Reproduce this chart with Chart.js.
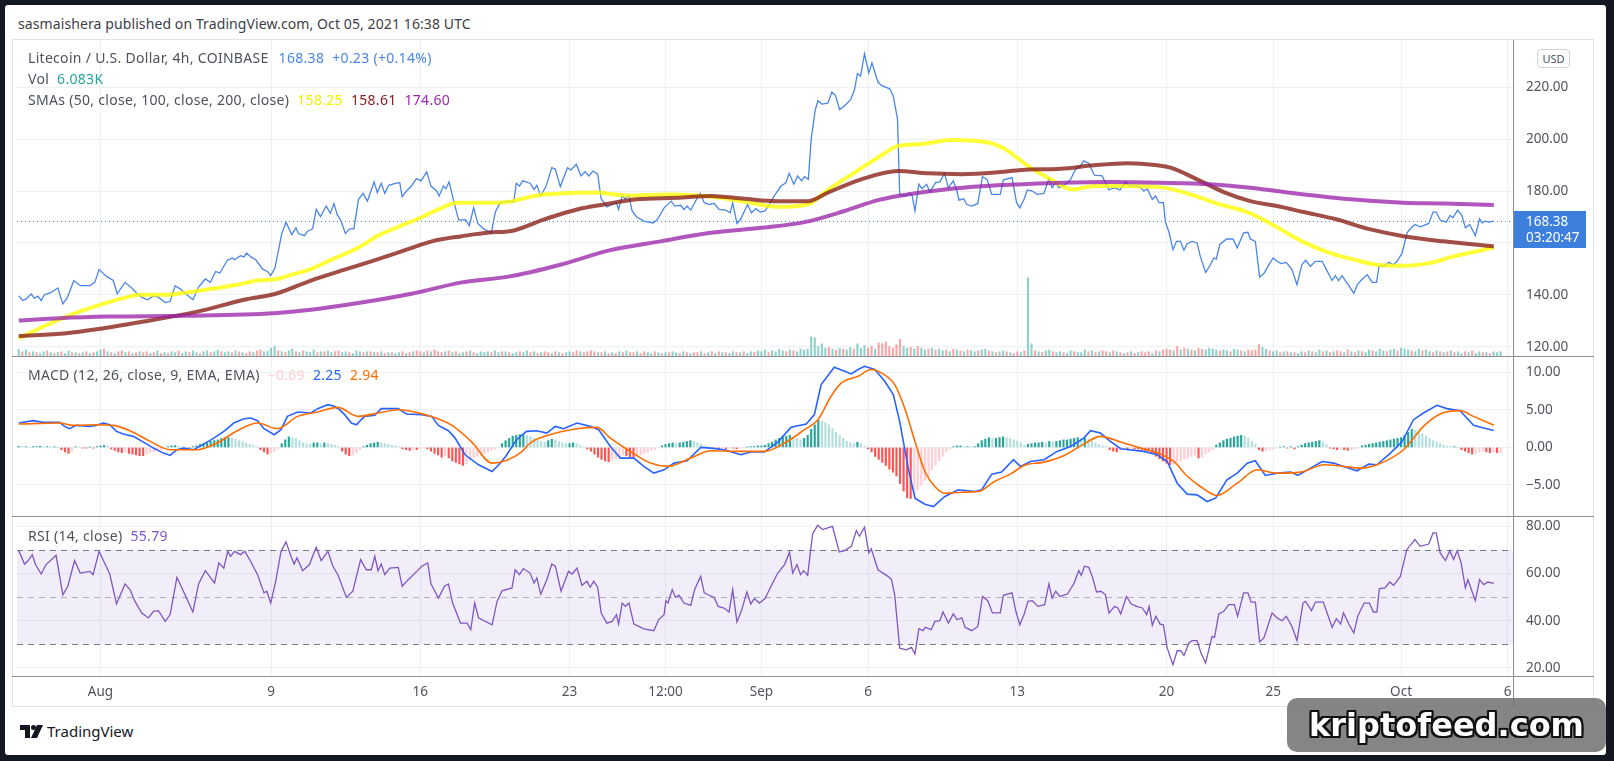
<!DOCTYPE html>
<html>
<head>
<meta charset="utf-8">
<script src="https://cdn.jsdelivr.net/npm/chart.js@4.4.1/dist/chart.umd.min.js"></script>
<style>
  body { margin: 0; width: 1614px; height: 761px; overflow: hidden; background: #131722; font-family: "Noto Sans", sans-serif; }
  .abs { position: absolute; }
  #card { left: 5px; top: 5px; width: 1601px; height: 750px; background: #fff; border-radius: 3px; }
  #frame { left: 12px; top: 39px; width: 1582px; height: 668px; border: 1px solid #e0e3eb; box-sizing: border-box; }
  .hline { height: 1px; background: #8c8f98; left: 12px; width: 1582px; }
  .txt { font-size: 14px; letter-spacing: 0.3px; color: #4c525e; white-space: nowrap; line-height: 16px; }
  .txt span { margin-left: 8px; }
  #usd { left: 1537px; top: 49px; width: 33px; height: 19px; border: 1px solid #d1d4dc; border-radius: 4px; box-sizing: border-box;
         font-size: 11px; line-height: 17px; text-align: center; color: #4c525e; background: #fff; }
  #wm { left: 1287px; top: 698px; width: 319px; height: 54px; border-radius: 10px; background: rgba(112,112,112,0.85);
        font-family: "DejaVu Sans", sans-serif; font-weight: bold; font-size: 32px; color: #fff; text-align: center; line-height: 54px;
        text-shadow: -2px -2px 0 #111, 2px -2px 0 #111, -2px 2px 0 #111, 2px 2px 0 #111, 0 2px 0 #111, 0 -2px 0 #111, 2px 0 0 #111, -2px 0 0 #111; }
</style>
</head>
<body>
<div id="card" class="abs"></div>
<div class="abs txt" style="left:18px;top:16px;color:#3d4049;letter-spacing:0.1px">sasmaishera published on TradingView.com, Oct 05, 2021 16:38 UTC</div>
<div id="frame" class="abs"></div>

<canvas id="price" class="abs" style="left:12px;top:40px" width="1582" height="317"></canvas>
<canvas id="macd" class="abs" style="left:12px;top:357px" width="1582" height="160"></canvas>
<canvas id="rsi" class="abs" style="left:12px;top:517px" width="1582" height="190"></canvas>

<div class="abs hline" style="top:356px"></div>
<div class="abs hline" style="top:516px"></div>
<div class="abs hline" style="top:676px"></div>
<div class="abs" style="left:1513px;top:40px;width:1px;height:667px;background:#8c8f98"></div>

<div class="abs txt" style="left:28px;top:50px">Litecoin / U.S. Dollar, 4h, COINBASE<span style="color:#4a86e8;margin-left:10px">168.38</span><span style="color:#4a86e8">+0.23 (+0.14%)</span></div>
<div class="abs txt" style="left:28px;top:71px">Vol<span style="color:#26a69a">6.083K</span></div>
<div class="abs txt" style="left:28px;top:92px">SMAs (50, close, 100, close, 200, close)<span style="color:#f2f200">158.25</span><span style="color:#8b1a1a">158.61</span><span style="color:#9c27b0">174.60</span></div>
<div id="usd" class="abs">USD</div>
<div class="abs txt" style="left:28px;top:367px">MACD (12, 26, close, 9, EMA, EMA)<span style="color:#ffcdd2">−0.69</span><span style="color:#2962ff">2.25</span><span style="color:#ff6d00">2.94</span></div>
<div class="abs txt" style="left:28px;top:528px">RSI (14, close)<span style="color:#7e57c2">55.79</span></div>

<svg class="abs" style="left:20px;top:725px" width="24" height="13" viewBox="0 0 24 13">
  <path d="M0 0h10v13H5V5H0z M17 0h6l-6 13h-6z" fill="#131722"/>
  <circle cx="13.5" cy="2.5" r="2.5" fill="#131722"/>
</svg>
<div class="abs" style="left:47px;top:721px;font-size:15px;color:#131722">TradingView</div>
<div id="wm" class="abs">kriptofeed.com</div>

<script>
// x values are 4h bars counted from Aug 1 00:00 UTC
const tickBars = [0, 48, 90, 132, 159, 186, 216, 258, 300, 330, 366, 396];
const tickLabels = ["Aug", "9", "16", "23", "12:00", "Sep", "6", "13", "20", "25", "Oct", "6"];
const priceTicks = [120, 140, 160, 180, 200, 220];
const macdTicks = [-5, 0, 5, 10];
const rsiTicks = [20, 40, 60, 80];

// LTC close at its turning points
const priceLine = [[-23,139.6],[-21.9,137.8],[-21,138.3],[-19.5,140.3],[-18.6,138.7],[-17.6,139.4],[-16.7,137.8],[-15.8,140],[-13.9,140.9],[-12,142.6],[-10.6,136.5],[-9.4,138.7],[-7.5,145.5],[-5.7,143.5],[-3,143.5],[-1.6,144.8],[-0.4,149.7],[1.7,147.1],[3.6,145.5],[4.7,140.4],[6.9,144.8],[8.8,142.6],[10.2,140.6],[11.6,139.1],[13.2,138.1],[14.9,139.6],[16.3,139.1],[18.2,137],[19.6,137.4],[21,143.5],[22.5,142.2],[24.3,140],[26,138.1],[27.6,143],[29.5,146.1],[30.9,144.8],[32.4,149],[33.6,148.4],[35.7,153.3],[37.1,154.2],[37.7,153.5],[39.4,155.1],[40.4,154.6],[41.1,156.1],[42.3,154.6],[43.7,153.5],[45.6,149.9],[47,149],[47.9,147.4],[49.1,150.3],[51,163.6],[52.2,168],[53.8,163.2],[55,165.8],[55.7,163.6],[57.4,162.8],[58.3,164.5],[59.7,165.4],[60.7,172.9],[61.9,170.1],[63.5,174.2],[64.7,171.4],[65.7,175.2],[66.6,171],[67.7,168.4],[68.9,163.6],[70.1,165.4],[71.3,165.4],[72.6,176.8],[73.9,179.1],[75.1,176.1],[77,183.5],[77.9,179.4],[79,183],[80,179.1],[81.1,182.2],[83.3,183],[84.2,183.2],[84.9,177.8],[86.1,180],[87.5,181.9],[88.9,184.8],[90.2,183.9],[91.8,187.4],[93,181.9],[94.6,180],[95.3,178.1],[96.5,181.9],[97.2,180.9],[98.1,183.5],[99.4,176.1],[100.8,168.8],[102.7,169],[103.8,166.7],[105,173.5],[106.2,167.5],[107.8,165.4],[110,163.9],[111.1,171.9],[112.5,175.5],[114.9,176.1],[116.3,175.7],[117,183],[117.9,181.9],
  [118.8,183.9],[120.9,183],[122,180.6],[122.8,182.2],[123.9,178.1],[125.4,181.9],[127,189],[128,188.4],[129.4,181.7],[131.4,189],[132.4,188.1],[133.9,190.3],[135.2,185.8],[136.4,187.4],[137.4,185.8],[138.6,187.7],[139.9,186.5],[140.9,177],[142.5,173.9],[144,174.8],[145.2,175.5],[145.8,172.9],[146.8,178.1],[147.7,177],[148.7,178.3],[149.6,172.3],[150.8,170.1],[152.9,168.4],[155.5,167.7],[156.7,169],[158.6,173.5],[160.6,176.1],[161.6,174.2],[163.3,174.5],[164.2,172.9],[165.1,174.2],[166.1,172.6],[167.8,177],[168.8,179.1],[169.9,175.5],[171.3,174.8],[172.7,175.2],[174.1,172.9],[176,172.6],[177.2,171.6],[177.9,175.5],[179.1,167.5],[180.2,169.3],[182.1,174.8],[183.2,171.6],[184.4,173.2],[185.7,171.9],[187,172.3],[188.2,174.8],[189.6,178.1],[191.5,181.9],[192.9,183.2],[193.8,186.8],[195.1,182.6],[196.2,185.8],[197.3,183.9],[198.1,185.5],[199.2,184.5],[200,200],[201.1,211],[201.9,214.8],[203,213.5],[204.7,213.9],[205.8,218.1],[206.8,217],[208,211.4],[209.4,212.9],[211.1,215.2],[212.2,219.1],[213,225.2],[213.9,224.3],[215,232.9],[216.2,225.5],[217.1,229.4],[218.8,221.9],[219.9,220.6],[222.1,219.4],[223.1,216.5],[224.3,207.7],[224.9,178.7],[226.3,178.1],[227.7,179.1],[228.4,178.3],[229.2,172.3],[230.3,182.6],[231.2,180.9],[232.5,182.6],[233.4,179.6],[235,183.2],[236.2,183.5],[237.5,186.8],[238.6,181.3],[240,183.9],[241,180],[241.6,176.5],[242.9,177],[243.8,174.8],[245.2,174.2],[246.9,175.2],[248.2,185.5],[249.5,184.5],[250.8,178.7],[253.2,178.7],[254.1,184.3],[256.5,185.2],
  [257.8,175.5],[258.7,173.5],[259.9,176.8],[260.8,180.4],[262.2,180],[263.6,178.7],[265.5,179.1],[266.9,184.8],[267.8,181.3],[268.8,183.2],[269.7,181.3],[271.6,182.6],[273,184.5],[274.4,188.4],[275.8,189.7],[276.7,191.6],[278.1,190.7],[279.7,186.1],[281.9,185.8],[282.8,183.2],[283.8,180.4],[285.2,181.3],[286.9,180.4],[288.5,183.5],[289.7,181.9],[291.3,181.9],[292.7,181.3],[293.6,180],[294.6,180.9],[295.3,178.7],[296,176.8],[296.9,178.1],[297.9,175.5],[299.1,175.5],[299.7,168],[300.7,164.1],[301.8,157.4],[302.8,160.6],[303.9,160.6],[304.9,157.2],[305.8,159.7],[307.2,160.6],[308.6,160],[309.5,154.8],[311,148.6],[312.2,151.2],[313.3,154.2],[314,153.8],[315,159.4],[316.9,161.5],[318.7,161.5],[319.9,158.1],[321.7,163.9],[322.9,164.1],[323.6,161.5],[325,160.6],[326.2,146.8],[327.5,148.4],[328.8,151.6],[330,154.2],[331.1,152.9],[332.2,152],[333.7,152.5],[335.3,149.7],[336.7,143.9],[338.1,151.6],[339.1,153.3],[340.5,151],[341.9,152.9],[343.8,152.9],[345,149.7],[346.6,145.5],[347.5,147.4],[348.4,145.5],[349.4,147.4],[350.3,145.5],[351.3,143.5],[352.7,140.6],[353.7,143.9],[355.1,146.1],[356.5,147.7],[357.9,144.8],[359.1,144.8],[359.8,151],[361.2,151],[362.6,152.5],[363.8,151.6],[364.9,152.9],[366.3,156.1],[367.7,163.9],[369.1,166.2],[370,167.1],[371.4,166.2],[373.8,167.5],[375,171.9],[375.9,171.9],[377,168.8],[378.7,168],[379.8,170.6],[380.6,169.7],[381.9,172.6],[383.1,170.6],[384.1,165.8],[385.3,167.1],[386.9,162.8],[388.1,169.3],[388.8,167.7],[389.7,168.4],[390.7,168],[392.1,168.38]];

const sma50 = [[-23,123.2],[-16.2,127.7],[-9.6,131.6],[-0.2,136.1],[6.4,138.7],[11.1,140],[18.7,140],[24.3,140.9],[30.9,142.2],[38.5,143.9],[44.2,145.5],[49.8,146.1],[53.6,147.7],[59.2,149.9],[64.9,153.5],[72.5,158.1],[78.1,162.8],[83.8,166.2],[89.4,169.3],[95.1,172.9],[100.3,175.5],[108.3,175.5],[114,175.7],[122.8,178.3],[130.3,179.1],[138.8,179.4],[148.2,178.3],[160.4,178.7],[168,178.3],[176.4,177],[184,175.2],[190.6,173.9],[199,174.8],[204.7,180.4],[212.2,187.1],[218.8,192.9],[224.5,197.4],[231.1,198.1],[239.5,199.7],[249.9,198.7],[254.6,196.1],[261.7,189],[267.4,184.5],[273.5,180.6],[279.6,181.9],[289,181.9],[299.2,181.3],[305.8,179.1],[314.2,175.2],[323.6,171.4],[330.2,166.7],[338.6,160.3],[346.1,156.1],[353.6,153.3],[359.2,151.6],[366.7,151.2],[374.3,152.3],[380.8,154.8],[387.4,156.8],[392.1,158.25]];
const sma100 = [[-23,124.1],[-9.6,125.2],[-1.1,126.7],[12.1,129.7],[27.2,133.5],[40.4,138.1],[49.8,140.6],[59.2,145.5],[68.7,149.7],[76.2,152.9],[85.7,157.2],[93.2,160.6],[101.7,162.6],[110.2,164.1],[115.2,164.5],[124.7,169],[134.1,172.9],[141.6,174.8],[151,176.8],[162.3,177.4],[171.7,178.1],[181.2,177],[190.6,176.1],[199,176.1],[204.7,179.4],[214.1,184.5],[224.5,187.7],[232.9,186.8],[242.4,186.5],[251.8,187.1],[259.3,188.1],[270.2,188.6],[279.6,189.9],[289,190.7],[297.4,189.9],[301.1,189],[308.6,184.5],[316.1,179.6],[323.6,176.1],[331.1,174.2],[338.6,171.9],[348,169],[357.4,165.2],[366.7,162.6],[378,160.6],[392.1,158.61]];
const sma200 = [[-23,130.1],[-11.5,131],[2.6,131.6],[24.3,131.9],[48.9,132.9],[59.2,134.2],[73.4,137],[87.5,140.4],[101.7,144.8],[115.2,147.1],[129.4,151.6],[143.5,157.2],[157.6,160.6],[171.7,163.9],[185.9,165.8],[198.1,168],[209.4,172.3],[218.8,176.5],[224.5,178.1],[237.6,180.6],[248.9,181.9],[259.3,182.6],[270.2,183.2],[284.3,183.5],[298.3,183.2],[312.4,182.6],[323.6,181.3],[335.8,179.1],[349.9,177],[366.7,175.5],[378,175.2],[392.1,174.6]];

// volume in K per 4h bar from Jul 28 00:00 (bar -24); negative = down candle
const barStart = -24;
const volume = [
  7,9,-6,8,-5,6, -5,4,6,-7,5,-4, 5,-6,4,7,-5,5, -4,5,-6,4,-5,6,
  8,-9,6,-5,4,-6, -7,5,-6,4,-5,6, -5,-6,4,-5,7,-4, 5,-4,6,5,-7,4, 6,-5,7,5,-4,6, 7,-5,6,8,-6,5, 6,-5,7,-6,5,-4, -6,5,-7,-8,6,7,
  10,12,-7,6,-5,7, 9,-6,5,-7,6,5, 8,-5,6,-6,7,5, -6,-7,5,6,-5,4, 7,6,-5,6,-6,5, -5,6,-4,5,-5,4, 5,-6,4,-5,6,-7,
  -6,5,-7,6,-8,-6, -5,6,-7,5,-6,4, 5,-6,7,-5,4,6, 5,6,-5,7,5,-6, 6,-5,4,5,-6,5, 7,-5,6,-4,5,-6, -5,4,-6,5,-4,5,
  6,-5,-7,6,-5,-6, -7,-6,5,-5,6,-4, 5,-4,6,-5,7,-5, -5,6,-4,-6,5,4, -6,5,-4,5,-5,6, 5,-4,6,-5,4,-5, -5,6,-4,5,-6,4, -6,5,-5,4,6,-5, 5,-6,4,6,-5,7,
  6,8,-5,7,6,9, 7,-6,8,-7,6,9, 8,9,23,22,12,15, 10,-11,9,-8,10,-9, 8,11,-9,15,10,13, -10,-12,9,-16,-15,-17, -12,-10,-14,-20,12,10,
  -11,9,-12,10,8,-9, 10,-8,9,7,-8,6, -9,8,-7,6,-8,7, 6,-7,8,9,-7,6, -5,6,7,-6,5,-4, -6,5,-7,90,15,-7, 6,-5,7,8,-6,5,
  6,-5,4,7,-6,5, 5,8,-6,7,-5,6, -7,-6,5,-7,6,-5, 4,-5,6,-4,5,-6, -5,-6,4,-7,6,-8, -9,-8,7,-12,8,-10, 9,-8,7,-10,-9,8,
  10,9,8,-7,8,7, -6,9,8,-7,6,-8, -7,-8,-14,11,9,-7, 6,7,-5,6,-6,5, -5,4,6,-5,7,-6, 5,8,-6,7,-5,6, -7,-6,5,-8,6,-5,
  7,-6,5,8,-7,6, 9,7,-6,8,9,-7,
  10,9,8,-7,6,9, -7,8,6,-5,7,-6, 5,-6,7,-5,6,4, -6,5,-7,4,6,-5, 5,-4,6,5,6.083
];

const macdLine = [[-23,3.24],[-19,3.56],[-16.2,3.33],[-11.5,3.33],[-10.1,2.8],[-8.7,2.49],[-6.8,2.93],[-3,2.8],[-1.6,2.89],[0.8,3.24],[2.6,3.02],[4.5,2.13],[6.4,1.78],[9.2,1.47],[12.1,0.71],[14.9,-0.09],[17.7,-0.76],[19.6,-1.07],[21.5,-0.31],[23.4,-0.09],[26.2,-0.31],[29,0.44],[31.9,1.24],[34.7,2.13],[37.5,3.24],[40.4,3.82],[42.3,3.91],[44.2,3.56],[46,2.49],[48.9,1.69],[50.8,2.36],[52.6,4.13],[55.5,4.71],[59.2,4.58],[61.1,5.16],[64,5.69],[65.8,5.47],[67.3,5.02],[68.7,4.36],[70.6,3.24],[72,3.02],[74.3,4.13],[77.2,4.27],[79,5.16],[83.8,5.16],[86.1,4.44],[90.4,4.36],[93.2,4.13],[95.1,2.93],[97.9,2.22],[99.8,1.24],[102.6,-0.98],[106.4,-2.31],[110.2,-3.2],[112.1,-2.31],[114,-1.2],[117.1,1.02],[119.9,2.13],[122.8,2.22],[125.6,1.91],[128,2.8],[130.3,2.49],[134.1,3.24],[137.8,2.8],[140.2,2.36],[143.5,0.13],[146.3,-1.42],[150.1,-1.42],[152.9,-2.53],[155.7,-3.42],[158.6,-2.98],[161.4,-2.09],[165.1,-1.78],[168.9,0],[171.7,-0.09],[175.5,-0.31],[180.2,-0.98],[183,-0.62],[186.8,-0.62],[190.6,0.71],[194.3,2.67],[198.6,3.11],[200.9,4.36],[202.8,8.36],[206.5,10.67],[209.4,10.13],[211.3,9.78],[213.2,10.36],[215,10.8],[217.9,10.36],[220.7,8.8],[223.1,7.02],[224.9,3.47],[227.3,-2.76],[229.2,-6.76],[232,-7.56],[234.4,-7.87],[237.6,-6.53],[241.4,-5.64],[246.1,-5.87],[248,-5.64],[250.8,-3.56],[253.6,-3.29],[256.9,-1.64],[258.9,-2.53],[261.7,-1.87],[265.5,-1.64],[269.2,-0.53],[273,0.13],[276.7,1.24],[278.6,2.22],[281.4,1.91],[284.2,0.8],[287.1,-0.18],[293.6,-0.53],[297.4,-0.98],[300.2,-1.87],[303,-4.76],[305.8,-6.22],[308.6,-6.31],[311.4,-7.2],[313.8,-6.76],[317,-4.31],[319.9,-3.42],[322.7,-2.09],[325,-1.78],[327.8,-3.73],[331.1,-3.42],[334.9,-3.29],[337,-3.73],[340.5,-2.76],[343.8,-1.87],[347,-2.09],[349.8,-2.53],[353.6,-3.11],[356.9,-2.22],[359.2,-2.31],[363,-0.76],[366.2,0.71],[369.5,3.69],[372.3,4.58],[376.1,5.6],[378.9,5.16],[382.6,4.89],[386.4,2.93],[389.2,2.58],[392.1,2.25]];
const signalLine = [[-23,3.11],[-11.5,3.24],[-7.7,2.93],[-1.1,3.02],[3.6,2.93],[8.3,2.22],[14,0.8],[19.6,-0.31],[27.2,-0.31],[32.8,0.58],[38.5,2.22],[44.2,3.24],[49.8,2.49],[55.5,4.13],[61.1,4.71],[66.8,5.33],[72.5,4.13],[78.1,4.58],[83.8,5.02],[91.3,4.36],[98.9,2.93],[104.5,0.71],[110.2,-2.09],[114,-1.78],[118.7,-0.53],[120.9,0.58],[126.5,1.69],[134.1,2.49],[139.7,2.67],[143.5,1.24],[149.1,-0.53],[154.8,-2.09],[159.5,-2.53],[166.1,-1.42],[171.7,-0.44],[179.3,-0.53],[186.8,-0.53],[192.5,0.58],[198.1,2.36],[201.9,3.69],[205.6,6.8],[208.5,8.58],[213.2,9.47],[216.9,10.36],[219.7,9.91],[223.5,8.36],[226.3,5.24],[229.2,0.8],[232,-3.2],[234.8,-5.2],[237.6,-6.09],[242.4,-5.96],[247,-5.87],[251.6,-4.53],[256.5,-3.42],[259.9,-2.4],[265.5,-1.96],[271.2,-1.07],[276.7,0.44],[281.4,1.47],[287.1,0.71],[292.7,-0.09],[298.3,-0.89],[302.1,-1.9],[305.8,-3.8],[309.5,-5.2],[314.2,-6.4],[319.9,-4.76],[325.5,-2.98],[331.1,-3.42],[337.7,-3.29],[344.3,-2.31],[349.8,-2.53],[354.5,-2.76],[359.2,-2.31],[366.7,-0.31],[372.3,2.8],[377,4.44],[382.6,4.89],[386.4,4.13],[392.1,2.94]];

// MACD histogram per 4h bar from bar -24
const macdHist = [
  0.1,0.15,0.1,0.1,0.05,0.1,0.1,0.15,0.1,0.1,0.05,0.1,0.05, -0.3,-0.6,-0.8,-0.5, 0.1,0.05,-0.1,-0.1,0.05,-0.1,0.1,
  0.2,0.25,0.15, -0.2,-0.4,-0.6,-0.7,-0.6,-0.8,-0.9,-1.0,-1.1,-1.1,-0.9,-0.7,-0.6,-0.4,-0.3,-0.15,
  0.1,0.2,0.25,0.15,0.1,0.05,-0.05,0.1,
  0.2,0.4,0.5,0.6,0.8,0.9,1.0,1.2,1.3,1.3,1.2,1.1,0.9,0.8,0.6,0.4,0.3,0.1,
  -0.3,-0.6,-0.9,-0.8,-0.5,-0.2, 0.5,1.0,1.4,1.3,1.2,0.9, 0.6,0.5,0.4,0.6,0.6,0.5,0.6,0.5,0.4,0.3,0.1,
  -0.5,-0.9,-1.1,-1.0,-0.7,-0.3, 0.1,0.3,0.5,0.6,0.7,0.6,0.5,0.4,0.3,0.2,0.1, -0.2,-0.3,-0.4,-0.3,-0.3,-0.2,-0.1,-0.2,
  -0.5,-0.8,-1.0,-1.3,-1.1,-1.4,-1.8,-2.0,-2.2,-2.4,-2.2,-1.8,-1.4,-1.2,-1.0,-0.8,-0.6,-0.4,-0.2,-0.1,
  0.5,0.9,1.2,1.5,1.6,1.7,1.7,1.6,1.4, 1.2,1.0,0.8,0.7,0.9,1.1,1.0,0.8,0.6,0.5,0.5,0.6,0.5,0.3,0.1,
  -0.2,-0.5,-0.9,-1.3,-1.6,-1.8,-1.9,-1.7,-1.5,-1.2,-1.0,-1.1,-1.3,-1.4,-1.2,-1.0,-0.8,-0.6,-0.4,-0.3,-0.1,
  0.2,0.4,0.5,0.6,0.5,0.6,0.7,0.8,0.9,0.8,0.6,0.4,0.2,0.1, -0.1,-0.1,-0.2,-0.1,-0.2,-0.1,-0.1,-0.2,-0.1,-0.05,
  0.05,0.1,0.1,0.2,0.2,0.3,0.5, 0.7,1.0,1.2,1.4,1.5,1.6,1.4,1.2,1.0,1.2,1.6, 2.4,3.0,3.6,3.5,3.3,3.0,
  2.5,2.0,1.6,1.2,0.8,0.6,0.5,0.7,0.5, 0.2,-0.2,-0.6,
  -1.2,-1.6,-2.0,-2.4,-2.9,-3.3,-3.8,-4.8,-5.8,-6.7,-6.8, -6.2,-5.6,-5.0,-4.4,-3.8,-3.0,-2.4,-1.8,-1.2,-0.6,-0.2,
  0.1,0.2,0.2,0.1,0.1,0.05,0.1, 0.5,0.9,1.1,1.3,1.2,1.2,1.3,1.4,1.3,1.2,1.0,0.8,0.6,
  0.3,0.4,0.5,0.6,0.6,0.7,0.6,0.8,0.7,0.8,0.9,1.0,1.0,1.1,1.2,1.3,1.2,1.3,1.1,0.9, 0.6,0.4,0.2,0.1,
  -0.3,-0.5,-0.6,-0.4,-0.2,-0.2,-0.1,-0.2,-0.2,-0.3,-0.4,-0.5, -0.8,-1.2,-1.5,-1.8,-2.1,-2.3,-2.2,-2.0,
  -1.8,-1.6,-1.4,-1.2,-1.0,-1.4,-1.3,-0.9,-0.6,-0.3, 0.3,0.6,0.9,1.1,1.2,1.4,1.5,1.6,1.5,1.2,0.8,0.4,
  -0.3,-0.5,-0.4,-0.3,-0.2,-0.1,0.05, 0.1,-0.1,0.1,-0.2,0.1, 0.3,0.5,0.6,0.7,0.8,0.9,0.7,0.4,
  -0.1,-0.2,-0.3,-0.2,-0.3,-0.4,-0.3,-0.2,-0.1, 0.2,0.3,0.4,0.5,0.6,0.7,0.8,0.9,1.0,1.1,1.2,1.3,
  1.6,2.0,2.4,2.3,2.1,1.8,1.5,1.2,0.9,0.7,0.5, 0.3,0.2,0.1,0.1,0.05,
  -0.3,-0.5,-0.7,-0.9,-0.8,-0.6,-0.5,-0.6,-0.7,-0.6,-0.7,-0.69
];

const rsiLine = [[-23,69.7],[-21.4,64],[-20.5,65.2],[-19.2,68],[-18.3,63.8],[-16.7,59.8],[-15.3,63.8],[-12.5,67.7],[-10.6,51],[-9.2,54.6],[-7.3,65.5],[-5.7,60.2],[-3,60.9],[-2.1,59.5],[-0.4,69.4],[2.6,59.8],[4.5,47.1],[6.9,55.6],[8.3,53.2],[9.7,48.2],[11.6,43.3],[13.5,41.2],[14.9,44],[16.3,44.3],[18.2,39.7],[19.6,42.6],[21.5,58.4],[22.9,53.9],[26,43.7],[27.6,55.6],[29.5,61.2],[30.9,58.4],[32.1,56],[33.3,64.5],[34.7,62.3],[35.8,69.4],[36.6,67.3],[37.7,69.4],[39.4,68],[40.6,69.4],[42.1,65.5],[44.2,59.5],[46,51.8],[46.8,52.5],[47.9,47.5],[49.3,56.7],[50.8,69.4],[52.2,73.4],[53.6,67.3],[54.5,64],[55.3,66.6],[56.9,61.2],[58.8,63.8],[60.7,71.1],[62.1,65.5],[64,69.4],[65.4,63.1],[66.8,59.5],[69.2,49.9],[71,52.5],[73.2,65.9],[74.8,61.6],[76.2,61.6],[77.2,67.3],[78.1,61.2],[79,64],[80,59.5],[81.4,62.3],[83.8,62.6],[84.9,54.6],[86.6,57.4],[89,60.9],[90.4,63.1],[92.1,64.5],[93,55.6],[95.1,49.6],[96.8,54.6],[97.9,55.6],[99.1,47.5],[101.3,39],[103.2,39],[104.2,36.2],[105.3,47.5],[106.4,41.2],[108.3,39.7],[110.2,38.3],[111.6,48.2],[113,52.7],[115.8,53.9],[116.7,61.6],[117.9,59.5],[119,62.1],[120.9,60.2],[122,56],[122.8,58.1],[123.9,51.3],[125.6,57.4],[127,64],[128,63.1],[129.6,52.5],[131.7,60.9],[132.7,59.8],[134.1,62.3],[135.5,55],[136.9,56.7],[137.8,54.2],[138.8,56.7],[139.9,54.2],[140.9,43.3],[142.5,39],[144,39.7],[145.2,42.6],[145.8,38.6],[146.8,47.5],[147.7,46.1],[148.7,47.5],[150.1,38.6],[151.5,37.6],[152.9,36.6],[155.7,35.8],[157.1,40.5],[158.6,42.6],[159.1,48.5],[159.7,47.5],[160.9,53.2],[161.8,49.9],[162.8,50.8],[164.2,47.5],[166.1,46.5],[167.2,53.2],[168.9,58.8],[169.9,51.8],[171.3,50.8],[172.7,49.9],[173.8,46.1],[175.5,45.4],[176.9,43.7],[177.9,53.2],[179.1,39.5],[180.4,44.3],[181.9,52.2],[183,47.1],[184,49.4],[185.4,47.5],[187,49.4],[188.7,54.6],[190.6,60.2],[192.5,63.8],[193.9,69.1],[194.8,60.2],[196,63.8],[197,59.5],[197.9,61.2],[199,59.2],[200.4,76.8],[201.8,80.4],[203.2,78.6],[206,80],[207.9,69.1],[209.4,69.7],[211.3,71.5],[212.7,78.2],[213.6,75.8],[215,79.6],[216.2,68.7],[216.9,70.5],[218.8,61.6],[221.6,58.8],[222.6,57.4],[223.5,51],[224.9,28.4],[226.8,27.7],[228.2,28.7],[229.2,25.9],[230.3,36.6],[231.5,35.8],[232.1,37.2],[233.8,36.2],[234.8,39.7],[236.2,40],[237.1,43.7],[238.6,39],[240,42.9],[241,40.5],[242.4,41.2],[243.3,37.2],[245.2,35.8],[246.9,37.6],[248.2,50.3],[249.7,48.5],[251,43.3],[253.2,43.3],[254.1,50.8],[256.5,51.8],[257.6,44],[258.7,38.3],[259.9,42.6],[261,48.2],[262.2,48.5],[263.8,46.1],[265.7,46.8],[266.9,55.6],[267.8,49.6],[268.8,52.5],[270,50.3],[272.1,51.3],[273.9,55.6],[275.3,61.2],[276,59.2],[276.9,63.1],[278.1,62.6],[279.1,58.8],[280.3,52.2],[281.6,52.5],[282.8,51],[283.8,43.3],[285.4,46.1],[286.3,45.4],[287.1,42.9],[288.7,50.3],[290.1,47.1],[291.6,46.1],[293.2,45.4],[294.4,42.6],[295.1,46.1],[296,38.1],[297,41.9],[298.2,38.6],[299.1,38.3],[300.2,28.4],[301.8,21.4],[303,27.3],[304,27.3],[304.9,25.3],[306.3,30.6],[307.2,31.6],[308.6,31.6],[309.7,26.3],[311,22.1],[312.8,33.4],[313.5,33],[314.7,42.9],[316.1,44],[317.5,46.8],[319.1,46.8],[320,41.9],[321.7,51.8],[322.9,51.8],[323.8,47.9],[325,47.9],[326.2,31],[327.4,32.7],[329.7,43.3],[331.1,41.2],[332.5,40],[333.7,41.9],[335.3,37.6],[336.7,31.6],[338.4,47.5],[339.1,48.2],[340.8,44.3],[341.9,47.9],[344.1,47.9],[345.2,43.3],[346.6,37.2],[347.8,40.9],[349,38.6],[349.8,43.3],[351.3,38.6],[352.7,34.8],[353.8,41.9],[355.6,47.5],[357.1,47.5],[358.2,43.7],[359.2,43.7],[359.9,53.6],[361.5,53.9],[362.8,56.4],[363.9,55],[365.8,58.8],[367.6,70.1],[369.9,74.4],[371.4,71.5],[373.8,72.5],[375,77.2],[375.9,77.2],[377,68.7],[378.5,65.5],[379.7,69.7],[380.8,65.9],[381.8,69.7],[382.9,64.5],[384.1,53.9],[384.8,57.4],[386.9,48.5],[388.1,57.4],[389.3,55.3],[390.4,56.4],[392.1,55.79]];

const lastPrice = priceLine[priceLine.length - 1][1];
const countdown = "03:20:47";

// look
const xMin = -23.5, xMax = 397.5;
const gridColor = "#edf0f5";
const axisColor = "#50535e";
const priceColor = "#4a86e8";
Chart.defaults.font.family = "'Noto Sans', sans-serif";
Chart.defaults.font.size = 13.5;

const pts = arr => arr.map(([x, y]) => ({ x, y }));
const zeroPad = s => { s.paddingTop = 0; s.paddingBottom = 0; s.paddingLeft = 0; s.paddingRight = 0; };

function paneOptions(yMin, yMax, yTicks, fmt, showTime) {
  return {
    responsive: false,
    animation: false,
    events: [],
    layout: { padding: { left: 5, right: 0, top: 0, bottom: 0 } },
    plugins: { legend: { display: false }, tooltip: { enabled: false } },
    scales: {
      x: {
        type: "linear", min: xMin, max: xMax, offset: false,
        afterBuildTicks: s => { s.ticks = tickBars.map(v => ({ value: v })); },
        ticks: { display: showTime, autoSkip: false, maxRotation: 0, padding: 8, color: axisColor,
                 callback: v => tickLabels[tickBars.indexOf(v)] },
        grid: { color: gridColor, drawTicks: false, offset: false },
        border: { display: false },
        afterFit: s => { s.height = showTime ? 31 : 0; zeroPad(s); }
      },
      y: {
        position: "right", min: yMin, max: yMax,
        afterBuildTicks: s => { s.ticks = yTicks.map(v => ({ value: v })); },
        ticks: { padding: 13, color: axisColor, callback: fmt },
        grid: { color: gridColor, drawTicks: false },
        border: { display: false },
        afterFit: s => { s.width = 81; zeroPad(s); }
      }
    }
  };
}

const fmt2 = v => (v < 0 ? "\u2212" : "") + Math.abs(v).toFixed(2);

// dotted last-price line + blue price label on the axis
const lastPricePlugin = {
  id: "lastPrice",
  beforeDatasetsDraw(chart) {
    const { ctx, chartArea: a, scales: { y } } = chart;
    const py = Math.round(y.getPixelForValue(lastPrice)) + 0.5;
    ctx.save();
    ctx.strokeStyle = priceColor;
    ctx.lineWidth = 1;
    ctx.setLineDash([1, 3]);
    ctx.beginPath(); ctx.moveTo(a.left, py); ctx.lineTo(a.right, py); ctx.stroke();
    ctx.restore();
  },
  afterDraw(chart) {
    const { ctx, chartArea: a, scales: { y } } = chart;
    const py = Math.round(y.getPixelForValue(lastPrice));
    ctx.save();
    ctx.fillStyle = "#3d7fdc";
    ctx.fillRect(a.right + 1, py - 10, 72, 37);
    ctx.fillStyle = "#fff";
    ctx.font = "13.5px 'Noto Sans'";
    ctx.textBaseline = "middle";
    ctx.fillText(lastPrice.toFixed(2), a.right + 13, py + 1);
    ctx.fillText(countdown, a.right + 13, py + 17);
    ctx.restore();
  }
};

// RSI 70/30 band with dashed levels
const rsiBandPlugin = {
  id: "rsiBand",
  beforeDatasetsDraw(chart) {
    const { ctx, chartArea: a, scales: { y } } = chart;
    const y70 = y.getPixelForValue(70), y30 = y.getPixelForValue(30), y50 = y.getPixelForValue(50);
    ctx.save();
    ctx.fillStyle = "rgba(126,87,194,0.1)";
    ctx.fillRect(a.left, y70, a.right - a.left, y30 - y70);
    ctx.lineWidth = 1;
    ctx.setLineDash([6, 5]);
    [[y70, "#787b86"], [y30, "#787b86"], [y50, "rgba(120,123,134,0.55)"]].forEach(([py, c]) => {
      ctx.strokeStyle = c;
      ctx.beginPath(); ctx.moveTo(a.left, Math.round(py) + 0.5); ctx.lineTo(a.right, Math.round(py) + 0.5); ctx.stroke();
    });
    ctx.restore();
  }
};

// price pane
const priceOpts = paneOptions(116.03, 238.2, priceTicks, fmt2, false);
priceOpts.scales.yv = { display: false, min: 0, max: 360 };
new Chart(document.getElementById("price"), {
  type: "line",
  data: {
    datasets: [
      { type: "bar", data: volume.map((v, i) => ({ x: barStart + i, y: Math.abs(v) })),
        backgroundColor: volume.map(v => v >= 0 ? "rgba(38,166,154,0.5)" : "rgba(239,83,80,0.5)"),
        yAxisID: "yv", barThickness: 1.5, order: 6 },
      { data: pts(priceLine), borderColor: priceColor, borderWidth: 1.3, pointRadius: 0, order: 4 },
      { data: pts(sma50), borderColor: "rgba(255,255,0,0.78)", borderWidth: 4, pointRadius: 0, cubicInterpolationMode: "monotone", order: 3 },
      { data: pts(sma100), borderColor: "rgba(135,28,18,0.78)", borderWidth: 4, pointRadius: 0, cubicInterpolationMode: "monotone", order: 2 },
      { data: pts(sma200), borderColor: "rgba(150,30,165,0.75)", borderWidth: 4, pointRadius: 0, cubicInterpolationMode: "monotone", order: 1 }
    ]
  },
  options: priceOpts,
  plugins: [lastPricePlugin]
});

// MACD pane
new Chart(document.getElementById("macd"), {
  type: "line",
  data: {
    datasets: [
      { type: "bar", data: macdHist.map((v, i) => ({ x: barStart + i, y: v })),
        backgroundColor: macdHist.map((v, i) => {
          const p = i ? macdHist[i - 1] : v;
          return v >= 0 ? (v >= p ? "#26a69a" : "#b2dfdb") : (v <= p ? "#ff5252" : "#ffcdd2");
        }),
        barThickness: 1.5, order: 3 },
      { data: pts(macdLine), borderColor: "#2962ff", borderWidth: 1.6, pointRadius: 0, order: 2 },
      { data: pts(signalLine), borderColor: "#ff6d00", borderWidth: 1.6, pointRadius: 0, cubicInterpolationMode: "monotone", order: 1 }
    ]
  },
  options: paneOptions(-9.26, 12.03, macdTicks, fmt2, false)
});

// RSI pane with time axis
new Chart(document.getElementById("rsi"), {
  type: "line",
  data: {
    datasets: [
      { data: pts(rsiLine), borderColor: "#7e57c2", borderWidth: 1.3, pointRadius: 0 }
    ]
  },
  options: paneOptions(16.6, 83.94, rsiTicks, fmt2, true),
  plugins: [rsiBandPlugin]
});
</script>
</body>
</html>
